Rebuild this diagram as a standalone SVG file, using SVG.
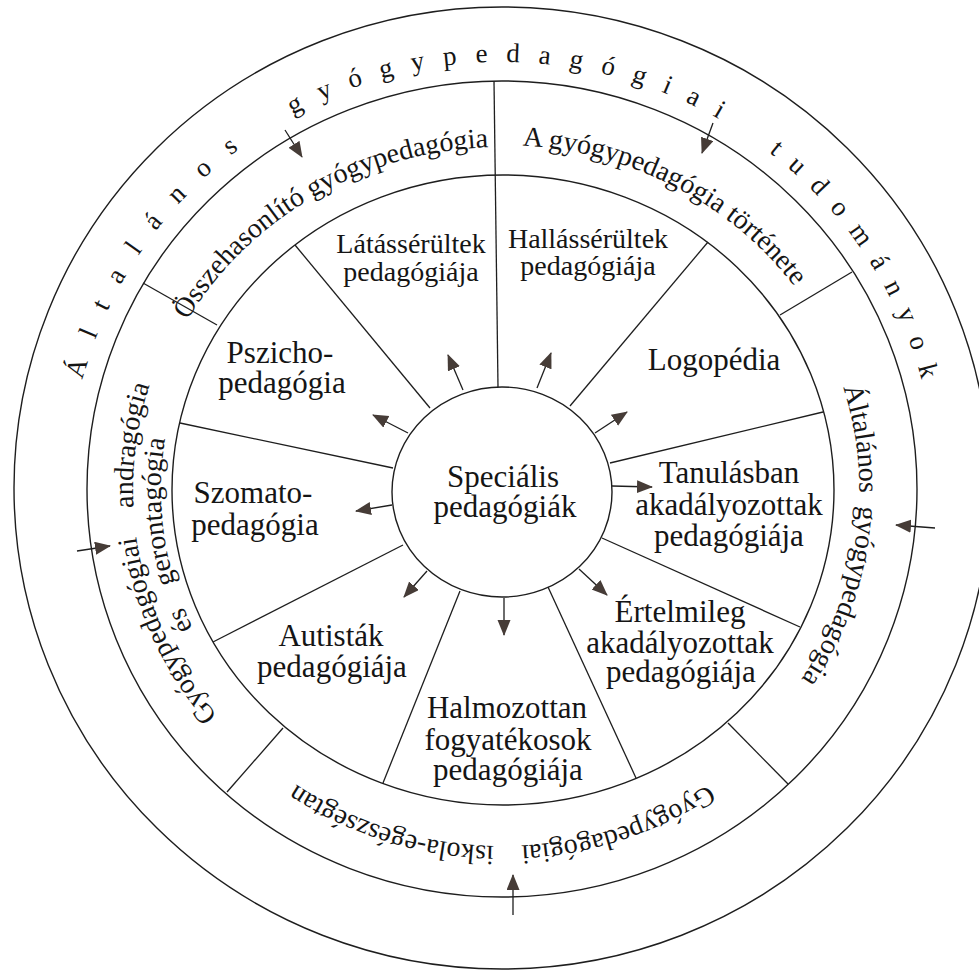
<svg xmlns="http://www.w3.org/2000/svg" width="979" height="971" viewBox="0 0 979 971">
<defs>
<style>
.ring{fill:none;stroke:#1e1e1e;stroke-width:1.4}
.dv{stroke:#1e1e1e;stroke-width:1.3;fill:none}
.arr{stroke:#1e1e1e;stroke-width:1.3;fill:none;marker-end:url(#ah)}
.lbl{font-family:"Liberation Serif","Times New Roman",serif;font-size:31px;fill:#151515;text-anchor:middle}
.sm{font-size:28px}
.rt{font-family:"Liberation Serif","Times New Roman",serif;font-size:28px;fill:#151515}
.ot{font-family:"Liberation Serif","Times New Roman",serif;font-size:27px;fill:#151515;letter-spacing:18.5px;word-spacing:16px}
</style>
<marker id="ah" markerWidth="18" markerHeight="14" refX="15" refY="6.5" orient="auto" markerUnits="userSpaceOnUse">
<path d="M0,0 L16,6.5 L0,13 Z" fill="#463c37"/>
</marker>
<path id="pOuter" d="M68,489 A434,427 0 0 1 936,489"/>
<path id="pT1" d="M144.7,434.6 A362,343 0 0 1 621.6,166.3"/>
<path id="pT2" d="M372.3,167.9 A362,345 0 0 1 857.4,424.2"/>
<path id="pT3" d="M766.7,258.0 A358,346 0 0 1 692.2,783.0"/>
<path id="pT4" d="M782.4,718.8 A366,356 0 0 1 221.6,718.8"/>
<path id="pT5" d="M323.1,799.6 A369,354 0 0 1 215.2,267.2"/>
<path id="pT6" d="M320.3,766.8 A341,327 0 0 1 249.4,270.3"/>
</defs>
<rect width="979" height="971" fill="#ffffff"/>

<g id="rings">
<ellipse class="ring" cx="502" cy="488" rx="488" ry="481"/>
<ellipse class="ring" cx="502" cy="489" rx="415" ry="408"/>
<ellipse class="ring" cx="503" cy="490" rx="331" ry="315"/>
</g>

<g id="dividers">
<line class="dv" x1="494" y1="81" x2="498" y2="387"/>
<line class="dv" x1="143" y1="283" x2="217" y2="325"/>
<line class="dv" x1="852" y1="272" x2="780" y2="315"/>
<line class="dv" x1="227" y1="792" x2="283" y2="728"/>
<line class="dv" x1="788" y1="784" x2="728" y2="723"/>
<line class="dv" x1="295" y1="245" x2="430" y2="408"/>
<line class="dv" x1="180" y1="423" x2="393" y2="468"/>
<line class="dv" x1="213" y1="642" x2="403" y2="545"/>
<line class="dv" x1="383" y1="783" x2="460" y2="591"/>
<line class="dv" x1="636" y1="778" x2="548" y2="587"/>
<line class="dv" x1="800" y1="627" x2="602" y2="538"/>
<line class="dv" x1="823" y1="412" x2="610" y2="463"/>
<line class="dv" x1="708" y1="242" x2="570" y2="406"/>
</g>

<g id="connectors">
<line class="arr" x1="463" y1="390" x2="448" y2="355"/>
<line class="arr" x1="537" y1="388" x2="551" y2="353"/>
<line class="arr" x1="595" y1="433" x2="627" y2="412"/>
<line class="arr" x1="612" y1="486" x2="652" y2="487"/>
<line class="arr" x1="579" y1="569" x2="607" y2="595"/>
<line class="arr" x1="504" y1="598" x2="504" y2="635"/>
<line class="arr" x1="427" y1="571" x2="404" y2="597"/>
<line class="arr" x1="392" y1="505" x2="356" y2="511"/>
<line class="arr" x1="408" y1="433" x2="373" y2="415"/>
<line class="arr" x1="285" y1="130" x2="302" y2="157"/>
<line class="arr" x1="713" y1="123" x2="702" y2="153"/>
<line class="arr" x1="77" y1="551" x2="110" y2="546"/>
<line class="arr" x1="935" y1="528" x2="896" y2="525"/>
<line class="arr" x1="513" y1="915" x2="513" y2="875"/>
</g>

<g id="outer-ring">
<text class="ot"><textPath href="#pOuter" startOffset="684" text-anchor="middle"><tspan letter-spacing="22.5">Általános</tspan> gyógypedagógiai <tspan letter-spacing="16">tudományok</tspan></textPath></text>
</g>

<g id="osszehasonlito">
<text class="rt" font-size="27"><textPath href="#pT1" startOffset="49%" text-anchor="middle">Összehasonlító gyógypedagógia</textPath></text>
</g>
<g id="tortenete">
<text class="rt"><textPath href="#pT2" startOffset="50%" text-anchor="middle">A gyógypedagógia története</textPath></text>
</g>
<g id="altalanos">
<text class="rt"><textPath href="#pT3" startOffset="50%" text-anchor="middle" word-spacing="6">Általános gyógypedagógia</textPath></text>
</g>
<g id="iskola">
<text class="rt"><textPath href="#pT4" startOffset="50%" text-anchor="middle" word-spacing="20">Gyógypedagógiai iskola-egészségtan</textPath></text>
</g>
<g id="andragogia">
<text class="rt" font-size="26"><textPath href="#pT5" startOffset="50%" text-anchor="middle" word-spacing="22">Gyógypedagógiai andragógia</textPath><textPath href="#pT6" startOffset="50%" text-anchor="middle" word-spacing="18">és gerontagógia</textPath></text>
</g>

<g id="specialis">
<ellipse class="ring" cx="502" cy="492" rx="110" ry="105"/>
<text class="lbl"><tspan x="503" y="487">Speciális</tspan><tspan x="505" y="517">pedagógiák</tspan></text>
</g>
<g id="latasserultek">
<text class="lbl sm"><tspan x="411" y="253">Látássérültek</tspan><tspan x="411" y="281">pedagógiája</tspan></text>
</g>
<g id="hallasserultek">
<text class="lbl sm"><tspan x="588" y="248">Hallássérültek</tspan><tspan x="588" y="275">pedagógiája</tspan></text>
</g>
<g id="logopedia">
<text class="lbl" x="714" y="370">Logopédia</text>
</g>
<g id="tanulasban">
<text class="lbl"><tspan x="729" y="483">Tanulásban</tspan><tspan x="729" y="515">akadályozottak</tspan><tspan x="729" y="546">pedagógiája</tspan></text>
</g>
<g id="ertelmileg">
<text class="lbl"><tspan x="680" y="622">Értelmileg</tspan><tspan x="680" y="653">akadályozottak</tspan><tspan x="681" y="682">pedagógiája</tspan></text>
</g>
<g id="halmozottan">
<text class="lbl"><tspan x="507" y="718">Halmozottan</tspan><tspan x="508" y="750">fogyatékosok</tspan><tspan x="508" y="780">pedagógiája</tspan></text>
</g>
<g id="autistak">
<text class="lbl"><tspan x="331" y="646">Autisták</tspan><tspan x="332" y="677">pedagógiája</tspan></text>
</g>
<g id="szomato">
<text class="lbl"><tspan x="253" y="503">Szomato-</tspan><tspan x="255" y="535">pedagógia</tspan></text>
</g>
<g id="pszicho">
<text class="lbl"><tspan x="280" y="363">Pszicho-</tspan><tspan x="282" y="393">pedagógia</tspan></text>
</g>
</svg>
